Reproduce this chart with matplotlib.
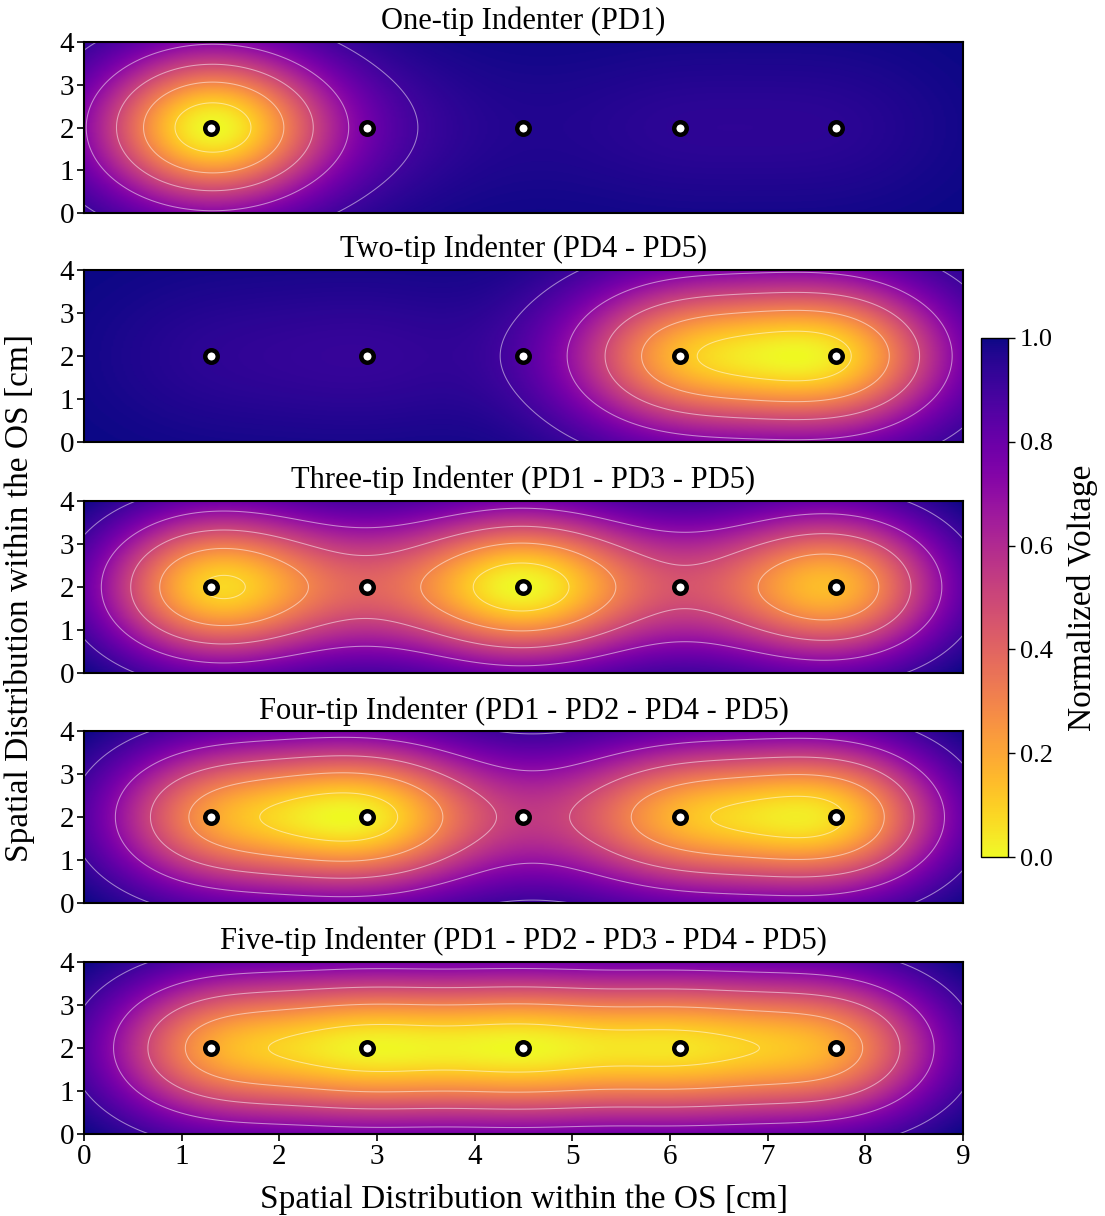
import numpy as np
import matplotlib
matplotlib.use("Agg")
import matplotlib.pyplot as plt

plt.rcParams['font.family'] = ['Liberation Serif', 'DejaVu Serif']
plt.rcParams['mathtext.fontset'] = 'stix'

# ---- data ----
pd_x = [1.3, 2.9, 4.5, 6.1, 7.7]          # photodetector positions [cm]
pd_y = [2.0, 2.0, 2.0, 2.0, 2.0]
titles = ["One-tip Indenter (PD1)",
          "Two-tip Indenter (PD4 - PD5)",
          "Three-tip Indenter (PD1 - PD3 - PD5)",
          "Four-tip Indenter (PD1 - PD2 - PD4 - PD5)",
          "Five-tip Indenter (PD1 - PD2 - PD3 - PD4 - PD5)"]
# relative response strength of each PD (PD1..PD5) per indenter case
w_one = [1.00, 0.07, 0.02, 0.05, 0.05]
w_two = [0.06, 0.08, 0.03, 0.86, 1.00]
w_three = [0.965, 0.40, 1.00, 0.35, 0.906]
w_four = [0.795, 1.00, 0.30, 0.82, 0.98]
w_five = [0.90, 1.00, 1.00, 0.95, 0.91]
spread_x = 0.83   # cm
spread_y = 1.26   # cm
contour_levels = [0.1, 0.3, 0.5, 0.7, 0.9]
x_ticks = [0, 1, 2, 3, 4, 5, 6, 7, 8, 9]
y_ticks = [0, 1, 2, 3, 4]
cbar_ticks = [0.0, 0.2, 0.4, 0.6, 0.8, 1.0]

weights = [w_one, w_two, w_three, w_four, w_five]

W, H = 1105, 1216
fig = plt.figure(figsize=(W / 100, H / 100), dpi=100)

def px_axes(x0, y0, x1, y1):
    return fig.add_axes([x0 / W, 1 - y1 / H, (x1 - x0) / W, (y1 - y0) / H])

panel_px = [(42, 213), (270, 442), (501, 673), (731, 903), (962, 1134)]
xs = np.linspace(0, 9, 451)
ys = np.linspace(0, 4, 201)
X, Y = np.meshgrid(xs, ys)

im = None
for i, (top, bot) in enumerate(panel_px):
    ax = px_axes(84, top, 963, bot)
    I = np.zeros_like(X)
    for xi, yi, wi in zip(pd_x, pd_y, weights[i]):
        I += wi * np.exp(-((X - xi) ** 2) / (2 * spread_x ** 2)
                         - ((Y - yi) ** 2) / (2 * spread_y ** 2))
    V = (I.max() - I) / (I.max() - I.min())
    im = ax.imshow(V, extent=[0, 9, 0, 4], origin='lower', aspect='auto',
                   cmap='plasma_r', vmin=0, vmax=1, interpolation='bilinear')
    ax.contour(X, Y, V, levels=contour_levels, colors='white',
               linewidths=0.75, alpha=0.5)
    ax.plot(pd_x, pd_y, 'o', ms=9, mfc='white', mec='black', mew=3.2,
            linestyle='none')
    ax.set_xlim(0, 9)
    ax.set_ylim(0, 4)
    ax.set_yticks(y_ticks)
    ax.set_title(titles[i], fontsize=22, pad=9)
    for s in ax.spines.values():
        s.set_linewidth(1.5)
    ax.tick_params(axis='both', direction='out', length=5, width=1.2,
                   labelsize=21, pad=2)
    if i < 4:
        ax.set_xticks([])
    else:
        ax.set_xticks(x_ticks)
        ax.set_xlabel("Spatial Distribution within the OS [cm]", fontsize=24,
                      labelpad=10)

fig.text(20 / W, 1 - 598 / H, "Spatial Distribution within the OS [cm]",
         rotation=90, ha='center', va='center', fontsize=24)

cax = px_axes(981, 338, 1008, 857)
cb = fig.colorbar(im, cax=cax, ticks=cbar_ticks)
cb.ax.set_yticklabels([f"{v:.1f}" for v in cbar_ticks])
cb.ax.tick_params(labelsize=19, length=5, width=1)
cb.outline.set_linewidth(1)
cb.set_label("Normalized Voltage", fontsize=24, labelpad=10)

fig.savefig("out.png", dpi=100)
